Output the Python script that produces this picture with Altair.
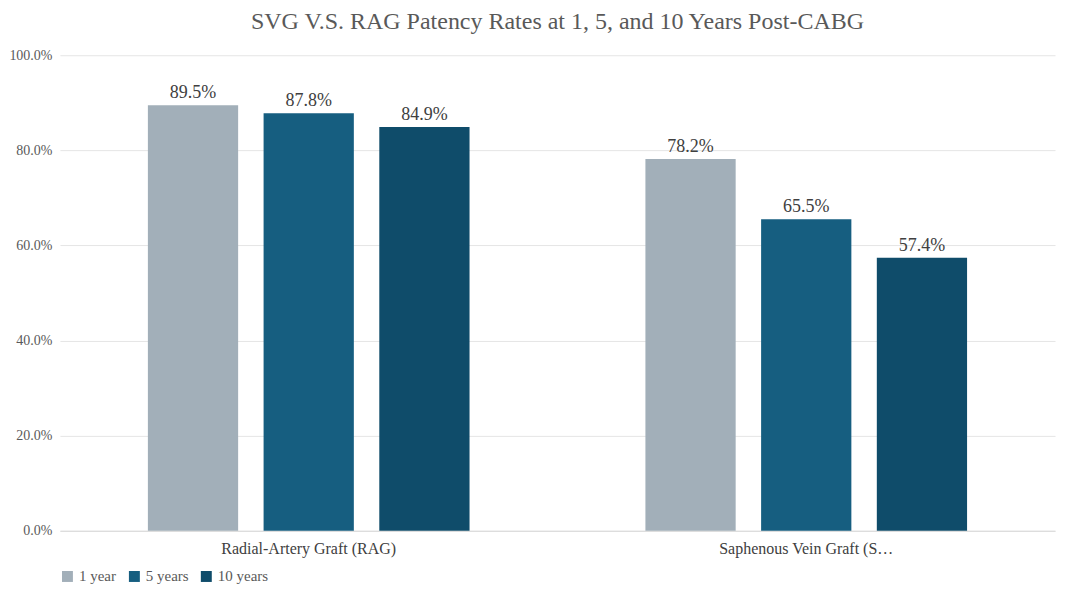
import pandas as pd
import altair as alt

grafts = ["Radial-Artery Graft (RAG)", "Saphenous Vein Graft (SVG)"]
periods = ["1 year", "5 years", "10 years"]
rag = [0.895, 0.878, 0.849]
svg = [0.782, 0.655, 0.574]

rows = []
for g, vals in zip(grafts, [rag, svg]):
    for p, v in zip(periods, vals):
        rows.append({"graft": g, "period": p, "rate": v})
df = pd.DataFrame(rows)

font = "Liberation Serif"
colors = ["#a2afb9", "#165e80", "#0f4c6a"]

base = alt.Chart(df).encode(
    x=alt.X("graft:N", sort=grafts, title=None,
            scale=alt.Scale(paddingInner=0, paddingOuter=0),
            axis=alt.Axis(labelAngle=0, labelFontSize=16, labelColor="#404040",
                          labelFont=font, ticks=False, domainColor="#d9d9d9", labelPadding=10)),
    xOffset=alt.XOffset("period:N", sort=periods,
                        scale=alt.Scale(paddingInner=0.22, paddingOuter=0.76)),
    y=alt.Y("rate:Q", title=None,
            scale=alt.Scale(domain=[0, 1]),
            axis=alt.Axis(format=".1%", tickCount=10, values=[i / 10 for i in range(11)],
                          labelFontSize=14, labelColor="#595959", labelFont=font,
                          ticks=False, domain=False, gridColor="#e5e5e5", labelPadding=8)),
)

bars = base.mark_bar().encode(
    color=alt.Color("period:N", sort=periods, scale=alt.Scale(domain=periods, range=colors),
                    legend=alt.Legend(title=None, orient="bottom", direction="horizontal",
                                      symbolType="square", labelFont=font, labelFontSize=15,
                                      labelColor="#595959", symbolSize=120, offset=12))
)
text = base.mark_text(dy=-12, fontSize=18, font=font, color="#404040").encode(
    text=alt.Text("rate:Q", format=".1%")
)

chart = (bars + text).properties(
    width=996, height=476,
    title=alt.TitleParams("SVG V.S. RAG Patency Rates at 1, 5, and 10 Years Post-CABG",
                          font=font, fontSize=24, fontWeight="normal", color="#595959", offset=14),
    padding={"left": 0, "top": 2, "right": 5, "bottom": 0},
).configure_view(stroke=None)

chart.save("out.html", embed_options={"renderer": "svg", "actions": False})
